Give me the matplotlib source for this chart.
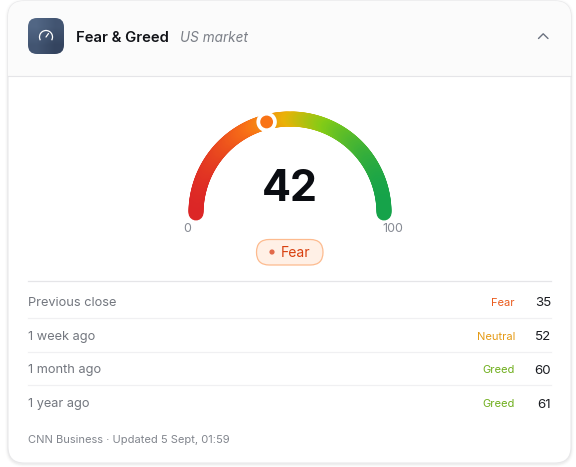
import numpy as np
import matplotlib
matplotlib.use("Agg")
import matplotlib.pyplot as plt
from matplotlib.collections import LineCollection
from matplotlib.colors import LinearSegmentedColormap
from matplotlib.patches import Circle, FancyBboxPatch, Rectangle, Arc

plt.rcParams['font.family'] = ['Inter', 'DejaVu Sans']

# Data
gauge_value = 42
gauge_label = "Fear"
gauge_min = 0
gauge_max = 100
row_labels = ["Previous close", "1 week ago", "1 month ago", "1 year ago"]
row_sentiments = ["Fear", "Neutral", "Greed", "Greed"]
row_values = [35, 52, 60, 61]
sentiment_colors = {"Fear": "#ea5a1c", "Neutral": "#e59a14", "Greed": "#6fae1c"}
gradient_colors = ["#dc2626", "#f97316", "#eab308", "#84cc16", "#16a34a"]
marker_color = "#f97316"

# Everything is laid out in pixels of the 576x467 card
fig = plt.figure(figsize=(5.76, 4.67), dpi=100)
ax = fig.add_axes([0, 0, 1, 1])
ax.set_xlim(0, 576)
ax.set_ylim(467, 0)
ax.axis("off")


def rounded(x0, y0, x1, y1, r, **kwargs):
    return FancyBboxPatch((x0 + r, y0 + r), x1 - x0 - 2 * r, y1 - y0 - 2 * r,
                          boxstyle=f"round,pad={r},rounding_size={r}", **kwargs)


# Card with soft shadow
for grow, alpha in [(3, 0.012), (2, 0.02), (1, 0.03)]:
    ax.add_patch(rounded(8 - grow, 1 - grow + 1, 571 + grow, 463 + grow + 1, 16 + grow,
                         fc="black", ec="none", alpha=alpha))
card = rounded(8, 1, 571, 463, 16, fc="white", ec="#e8e8ea", lw=0.8, zorder=1)
ax.add_patch(card)

# Header
header = Rectangle((8, 1), 563, 75, fc="#fbfbfb", ec="none", zorder=1.1)
ax.add_patch(header)
header.set_clip_path(card)
ax.plot([8, 571], [76, 76], color="#e5e5e8", lw=0.8, zorder=1.2)

icon = rounded(28, 18, 64, 54, 9, fc="none", ec="none", zorder=2)
ax.add_patch(icon)
grad = np.array([[0.0, 0.5], [0.5, 1.0]])
icon_cmap = LinearSegmentedColormap.from_list("icon", ["#516684", "#34445f"])
im = ax.imshow(grad, extent=(28, 64, 54, 18), cmap=icon_cmap, interpolation="bilinear",
               aspect="auto", zorder=2)
im.set_clip_path(icon)
ax.set_xlim(0, 576)
ax.set_ylim(467, 0)
ax.add_patch(Arc((46, 37), 13, 13, theta1=150, theta2=390, angle=0, color="white", lw=0.9, zorder=3))
ax.plot([46, 48.5], [37, 33.5], color="white", lw=0.9, zorder=3, solid_capstyle="round")

ax.text(76, 42, "Fear & Greed", fontsize=10.7, fontweight="semibold", color="#111318",
        va="baseline", ha="left", zorder=3)
ax.text(180.5, 42, "US market", fontsize=9.8, style="italic", color="#7b7f87",
        va="baseline", ha="left", zorder=3)
ax.plot([538.5, 543.2, 548], [38.5, 33.8, 38.5], color="#6b7280", lw=1.0, zorder=3,
        solid_capstyle="round", solid_joinstyle="round")

# Gauge arc, coloured along x
cx, cy, radius = 290, 213, 94
stroke = 15 * 0.72
angles = np.linspace(np.pi, 0, 240)
xs = cx + radius * np.cos(angles)
ys = cy - radius * np.sin(angles)
pts = np.column_stack([xs, ys])
segs = np.stack([pts[:-1], pts[1:]], axis=1)
gauge_cmap = LinearSegmentedColormap.from_list(
    "gauge", list(zip([0, 0.3, 0.5, 0.7, 1], gradient_colors)))
seg_colors = gauge_cmap((xs[:-1] - xs.min()) / (xs.max() - xs.min()))
ax.add_collection(LineCollection(segs, colors=seg_colors, linewidths=stroke,
                                 capstyle="round", zorder=3))

# Marker at the current value
frac = (gauge_value - gauge_min) / (gauge_max - gauge_min)
mark_angle = np.pi * (1 - frac)
mx = cx + radius * np.cos(mark_angle)
my = cy - radius * np.sin(mark_angle)
ax.add_patch(Circle((mx, my), 10.2, fc="white", ec="none", zorder=4))
ax.add_patch(Circle((mx, my), 6.4, fc=marker_color, ec="none", zorder=5))

ax.text(cx, 201, str(gauge_value), fontsize=31, fontweight="bold", color="#0b0d12",
        ha="center", va="baseline", zorder=5)
ax.text(187, 232, str(gauge_min), fontsize=9, color="#868a93", ha="center", va="baseline", zorder=5)
ax.text(393, 232, str(gauge_max), fontsize=9, color="#868a93", ha="center", va="baseline", zorder=5)

# Badge
ax.add_patch(rounded(256.5, 239.5, 323, 265, 12.7, fc="#fff0e6", ec="#fdbb8f", lw=0.9, zorder=3))
ax.add_patch(Circle((272, 252), 2.6, fc="#e2694a", ec="none", zorder=4))
ax.text(281, 257, gauge_label, fontsize=10.1, color="#d8400f", ha="left", va="baseline", zorder=4)

# Table of earlier readings
ax.plot([28, 551], [281, 281], color="#e5e5e8", lw=0.9, zorder=2)
label_ys = [306, 340, 373, 407]
value_ys = [306.5, 340.5, 373.5, 407.5]
line_ys = [318, 352, 385]
for y in line_ys:
    ax.plot([28, 551], [y, y], color="#f0f0f2", lw=0.9, zorder=2)
for y, vy, name, sentiment, value in zip(label_ys, value_ys, row_labels, row_sentiments, row_values):
    ax.text(28, y, name, fontsize=9.2, color="#73777f", ha="left", va="baseline", zorder=3)
    ax.text(515, y, sentiment, fontsize=8, color=sentiment_colors[sentiment],
            ha="right", va="baseline", zorder=3)
    ax.text(551, vy, str(value), fontsize=9.6, color="#1b1d22", ha="right", va="baseline", zorder=3)

ax.text(28, 443, "CNN Business · Updated 5 Sept, 01:59", fontsize=8, color="#81858d",
        ha="left", va="baseline", zorder=3)

fig.savefig("out.png", dpi=100, facecolor="white")
